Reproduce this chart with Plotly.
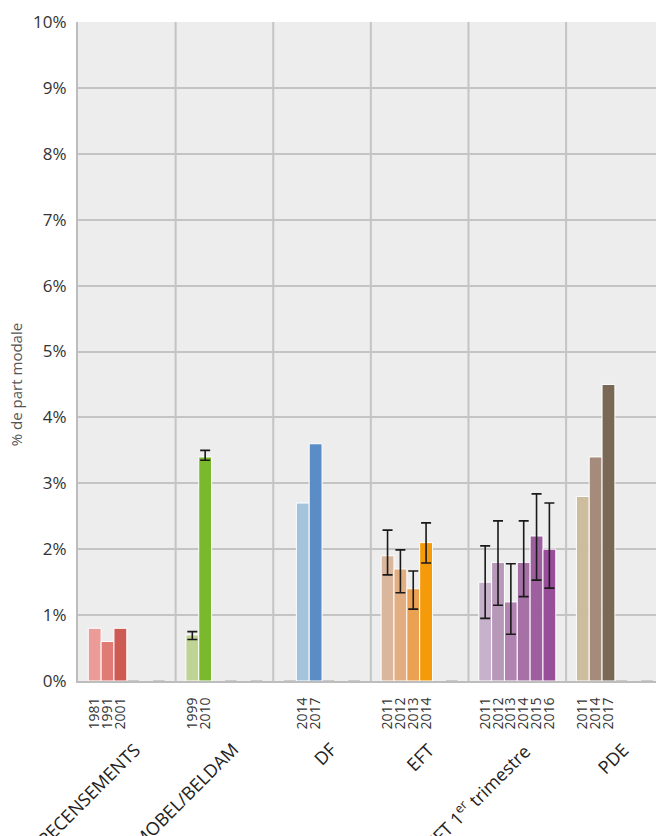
import plotly.graph_objects as go

# Survey groups and the years shown inside each one
groups = ["RECENSEMENTS", "MOBEL/BELDAM", "DF", "EFT", "EFT 1<sup>er</sup> trimestre", "PDE"]
group_years = [
    ["1981", "1991", "2001"],
    ["1999", "2010"],
    ["2014", "2017"],
    ["2011", "2012", "2013", "2014"],
    ["2011", "2012", "2013", "2014", "2015", "2016"],
    ["2011", "2014", "2017"],
]
# Modal share (%) per year
group_values = [
    [0.8, 0.6, 0.8],
    [0.7, 3.4],
    [2.7, 3.6],
    [1.9, 1.7, 1.4, 2.1],
    [1.5, 1.8, 1.2, 1.8, 2.2, 2.0],
    [2.8, 3.4, 4.5],
]
# Confidence interval bounds (upper / lower), None where not available
group_err_hi = [
    [None, None, None],
    [0.75, 3.50],
    [None, None],
    [2.29, 1.99, 1.67, 2.40],
    [2.05, 2.43, 1.78, 2.43, 2.84, 2.70],
    [None, None, None],
]
group_err_lo = [
    [None, None, None],
    [0.63, 3.35],
    [None, None],
    [1.61, 1.34, 1.09, 1.79],
    [0.95, 1.15, 0.71, 1.28, 1.53, 1.41],
    [None, None, None],
]
group_colors = [
    ["#eb9b98", "#df7a75", "#cd5b54"],
    ["#bfd395", "#7ab82e"],
    ["#a4c3dc", "#5a8dc6"],
    ["#d9b69c", "#e2ad80", "#eba152", "#f59a08"],
    ["#c8b1cb", "#b898b9", "#b083b0", "#a672a6", "#9e5f9f", "#994e9a"],
    ["#cdbd9f", "#a48b7b", "#7a6856"],
]
# First slot used by the bars of each group, and slots holding empty (zero) entries
first_slot = [0, 0, 1, 0, 0, 0]
empty_slots = [[3, 5], [3, 5], [0, 3, 5], [5], [], [3, 5]]

SLOTS = 6
PAD = 0.8
GROUP_W = SLOTS + 2 * PAD


def slot_x(g, s):
    return g * GROUP_W + PAD + s + 0.5


fig = go.Figure()

tick_vals, tick_text = [], []
for g, years in enumerate(group_years):
    xs = [slot_x(g, first_slot[g] + i) for i in range(len(years))]
    tick_vals += xs
    tick_text += years
    vals = group_values[g]
    hi = group_err_hi[g]
    lo = group_err_lo[g]
    has_err = any(h is not None for h in hi)
    err = None
    if has_err:
        err = dict(
            type="data",
            symmetric=False,
            array=[h - v for h, v in zip(hi, vals)],
            arrayminus=[v - l for l, v in zip(lo, vals)],
            color="#1a1a1a",
            thickness=1.6,
            width=5,
        )
    fig.add_trace(go.Bar(
        x=xs, y=vals, width=1.0,
        marker=dict(color=group_colors[g], line=dict(color="white", width=1)),
        error_y=err,
        showlegend=False,
    ))

# Empty entries drawn as flat bars on the baseline
ex = [slot_x(g, s) for g, sl in enumerate(empty_slots) for s in sl]
fig.add_trace(go.Bar(
    x=ex, y=[0] * len(ex), width=0.9,
    marker=dict(color="#a8a8a8", line=dict(color="#a8a8a8", width=1.2)),
    showlegend=False,
))

# Group separators
for g in range(1, len(groups) + 1):
    fig.add_shape(type="line", xref="x", yref="paper",
                  x0=g * GROUP_W, x1=g * GROUP_W, y0=0, y1=1,
                  line=dict(color="#c4c4c4", width=2), layer="below")

# Group names under the year labels
for g, name in enumerate(groups):
    fig.add_annotation(
        x=g * GROUP_W + GROUP_W / 2 + 1.7, y=-0.082,
        xref="x", yref="paper",
        text=name, textangle=-45, showarrow=False,
        xanchor="right", yanchor="top",
        font=dict(family="Open Sans", size=18, color="#222"),
    )

fig.add_annotation(
    x=-0.106, y=0.45, xref="paper", yref="paper",
    text="% de part modale", textangle=-90, showarrow=False,
    xanchor="center", yanchor="middle",
    font=dict(family="Open Sans", size=15, color="#555"),
)

fig.update_layout(
    width=656, height=836,
    margin=dict(l=78, r=0, t=22, b=155),
    paper_bgcolor="white",
    plot_bgcolor="#ededed",
    barmode="overlay",
    font=dict(family="Open Sans", color="#333"),
    xaxis=dict(
        range=[0, 45.0],
        tickmode="array", tickvals=tick_vals, ticktext=tick_text,
        tickangle=-90, tickfont=dict(size=14, color="#333"),
        showgrid=False, zeroline=False,
        showline=True, linecolor="#bdbdbd", linewidth=2,
        ticks="", ticklabelstandoff=9,
        fixedrange=True,
    ),
    yaxis=dict(
        range=[0, 10], dtick=1,
        tickvals=list(range(0, 11)),
        ticktext=[f"{v}%" for v in range(0, 11)],
        tickfont=dict(size=17, color="#333"),
        showgrid=True, gridcolor="#c4c4c4", gridwidth=2,
        zeroline=False,
        showline=True, linecolor="#bdbdbd", linewidth=2,
        ticks="", ticklabelstandoff=6,
    ),
)

fig.write_html("out.html")
